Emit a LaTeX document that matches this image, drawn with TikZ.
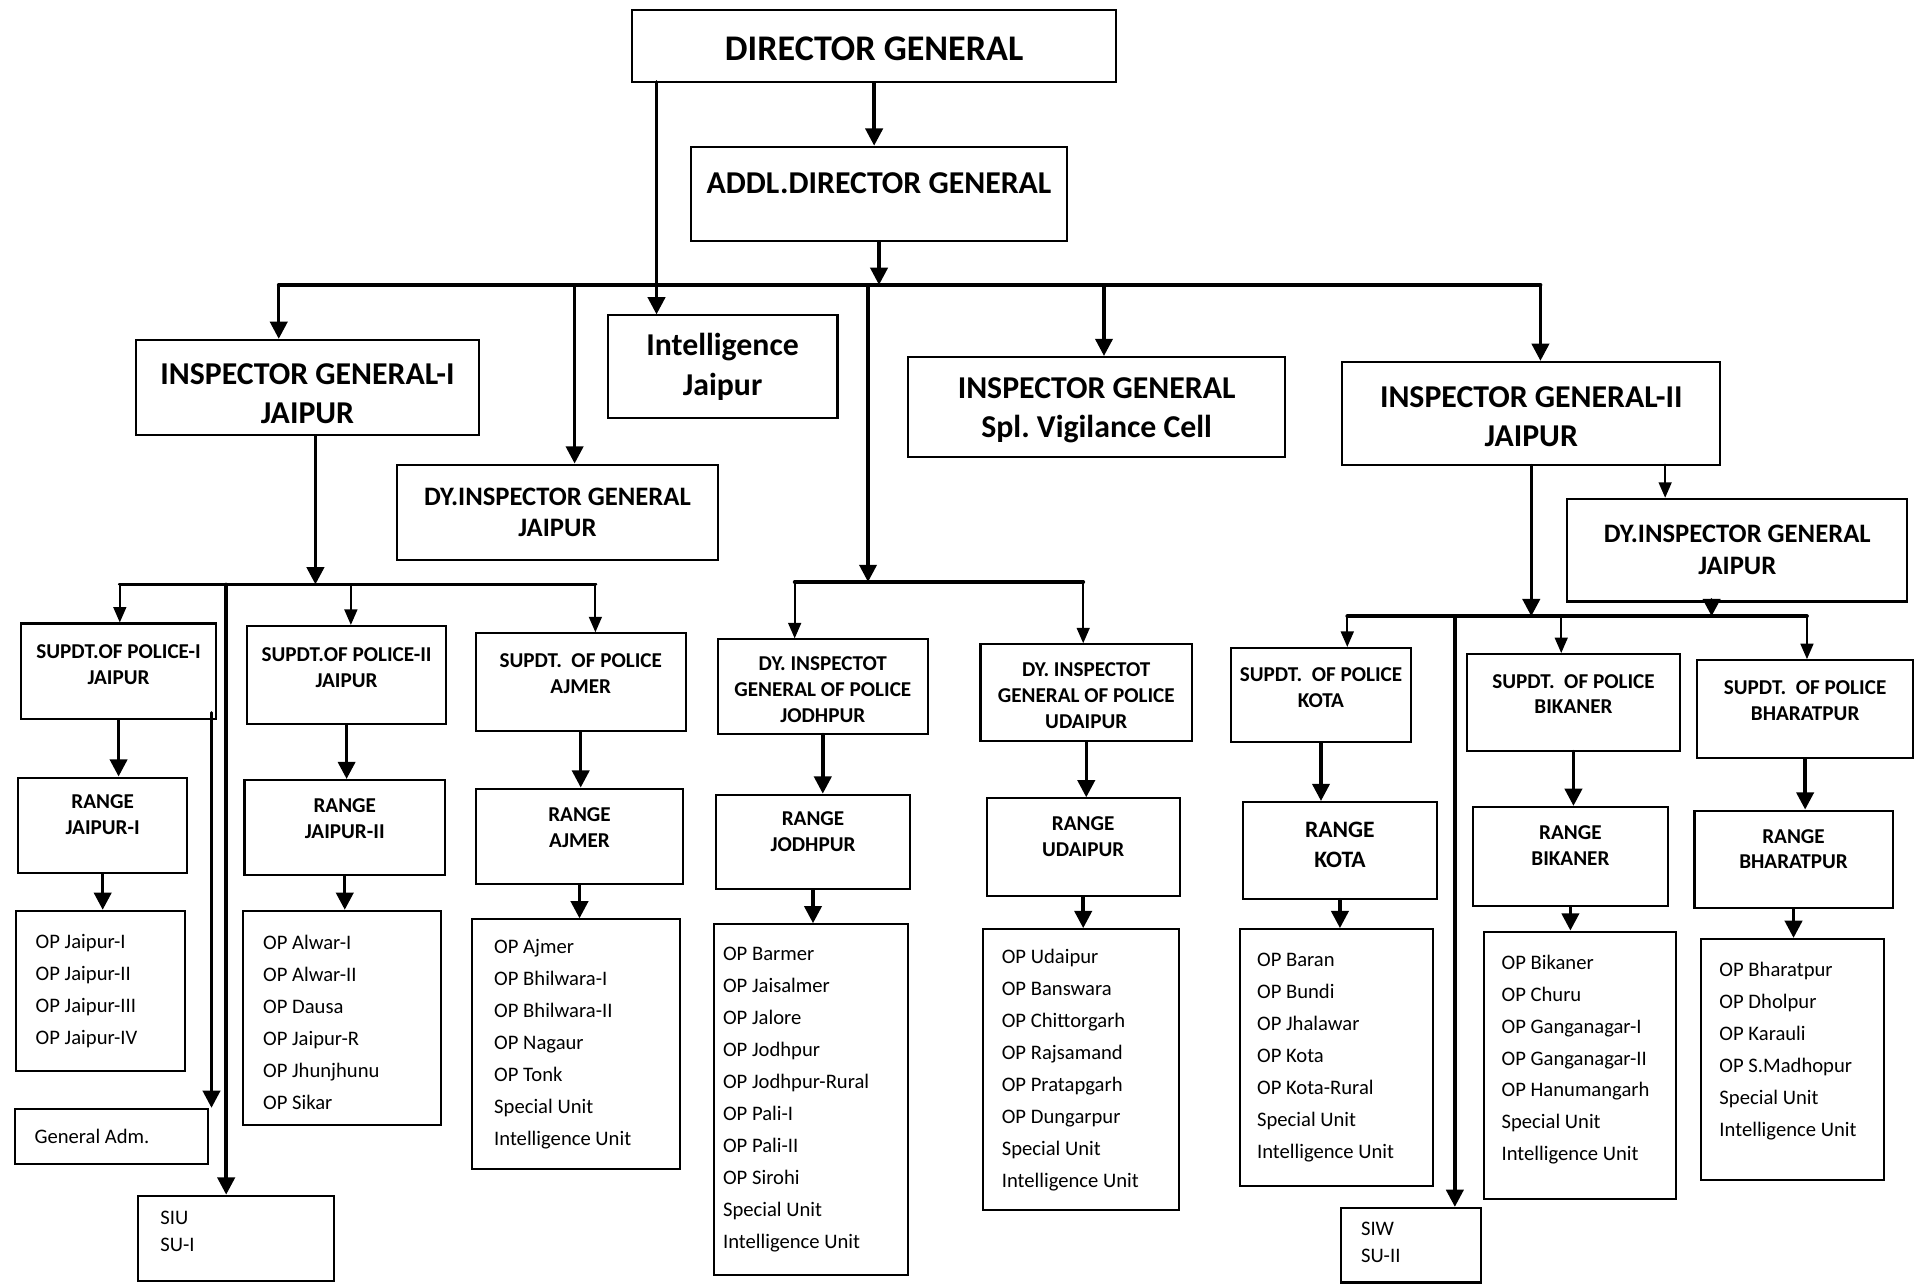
\documentclass[tikz,border=0pt]{standalone}
\usepackage{fontspec}
\setmainfont{Carlito}
\usetikzlibrary{arrows.meta, fit}

\tikzset{
  box/.style={draw, line width=1.2pt, inner sep=0pt},
  arr/.style={line width=2pt, -{Triangle[length=10pt,width=10pt]}},
  tarr/.style={line width=1.1pt, -{Triangle[length=9pt,width=7.5pt]}},
  bus/.style={line width=2.2pt},
  lvlone/.style={align=center, inner sep=0pt, font=\bfseries\fontsize{18.5}{22.8}\selectfont},
  lvltwo/.style={align=center, inner sep=0pt, font=\bfseries\fontsize{15.5}{18.5}\selectfont},
  lvlthree/.style={align=center, inner sep=0pt, font=\bfseries\fontsize{12.3}{15}\selectfont},
  oplist/.style={align=left, anchor=west, inner sep=0pt, font=\fontsize{12}{18.6}\selectfont},
}

\begin{document}
\begin{tikzpicture}[x=0.025cm, y=-0.025cm, line cap=round]
\useasboundingbox (0,0) rectangle (1568,1052);

% top of the chart
\node[box, fit={(517,8) (913,67)}] (dg) {};
\node[lvlone, font=\bfseries\fontsize{21}{25}\selectfont, yshift=-0.06cm] (dgt) at (dg) {DIRECTOR GENERAL};
\node[box, fit={(565,120) (873,197)}] (addl) {};
\node[lvlone, yshift=0.21cm] (addlt) at (addl) {ADDL.DIRECTOR GENERAL};
\node[box, fit={(497,258) (685,342)}] (intl) {};
\node[lvlone] (intlt) at (intl) {Intelligence\\Jaipur};
\node[box, fit={(111,278) (392,356)}] (ig1) {};
\node[lvlone, yshift=-0.12cm] (ig1t) at (ig1) {INSPECTOR GENERAL-I\\JAIPUR};
\node[box, fit={(325,380) (587,458)}] (dig1) {};
\node[lvltwo] (dig1t) at (dig1) {DY.INSPECTOR GENERAL\\JAIPUR};
\node[box, fit={(743,292) (1051,374)}] (igs) {};
\node[lvlone, yshift=-0.06cm] (igst) at (igs) {INSPECTOR GENERAL\\Spl.\ Vigilance Cell};
\node[box, fit={(1098,296) (1407,380)}] (ig2) {};
\node[lvlone, yshift=-0.07cm] (ig2t) at (ig2) {INSPECTOR GENERAL-II\\JAIPUR};
\node[box, fit={(1282,408) (1560,492)}] (dig2) {};
\node[lvltwo] (dig2t) at (dig2) {DY.INSPECTOR GENERAL\\JAIPUR};

% IG-I side
\node[box, fit={(17,510) (177,588)}] (sp1) {};
\node[lvlthree, yshift=0.14cm] (sp1t) at (sp1) {SUPDT.OF POLICE-I\\JAIPUR};
\node[box, fit={(15,636) (153,714)}] (rj1) {};
\node[lvlthree, yshift=0.22cm] (rj1t) at (rj1) {RANGE\\JAIPUR-I};
\node[box, fit={(13,745) (151,876)}] (op1) {};
\node[oplist] (op1t) at ([xshift=0.42cm]op1.west) {OP Jaipur-I\\OP Jaipur-II\\OP Jaipur-III\\OP Jaipur-IV};
\node[box, fit={(12,907) (170,952)}] (ga) {};
\node[oplist] (gat) at ([xshift=0.42cm]ga.west) {General Adm.};
\node[box, fit={(113,978) (273,1048)}] (siu) {};
\node[oplist, font=\fontsize{12}{15.6}\selectfont, yshift=0.15cm] (siut) at ([xshift=0.47cm]siu.west) {SIU\\SU-I};

\node[box, fit={(202,512) (365,592)}] (sp2) {};
\node[lvlthree, yshift=0.14cm] (sp2t) at (sp2) {SUPDT.OF POLICE-II\\JAIPUR};
\node[box, fit={(200,638) (364,716)}] (rj2) {};
\node[lvlthree, yshift=0.18cm] (rj2t) at (rj2) {RANGE\\JAIPUR-II};
\node[box, fit={(199,745) (361,920)}] (op2) {};
\node[oplist, yshift=-0.1cm] (op2t) at ([xshift=0.42cm]op2.west) {OP Alwar-I\\OP Alwar-II\\OP Dausa\\OP Jaipur-R\\OP Jhunjhunu\\OP Sikar};

\node[box, fit={(389,518) (561,598)}] (spa) {};
\node[lvlthree, yshift=0.18cm] (spat) at (spa) {SUPDT.\ \ OF POLICE\\AJMER};
\node[box, fit={(389,645) (559,723)}] (ra) {};
\node[lvlthree, yshift=0.18cm] (rat) at (ra) {RANGE\\AJMER};
\node[box, fit={(386,752) (556,956)}] (op3) {};
\node[oplist] (op3t) at ([xshift=0.47cm]op3.west) {OP Ajmer\\OP Bhilwara-I\\OP Bhilwara-II\\OP Nagaur\\OP Tonk\\Special Unit\\Intelligence Unit};

% Jodhpur and Udaipur
\node[box, fit={(587,523) (759,600)}] (dj) {};
\node[lvlthree, yshift=-0.06cm] (djt) at (dj) {DY. INSPECTOT\\GENERAL OF POLICE\\JODHPUR};
\node[box, fit={(586,650) (744,727)}] (rjo) {};
\node[lvlthree, yshift=0.21cm] (rjot) at (rjo) {RANGE\\JODHPUR};
\node[box, fit={(584,756) (743,1043)}] (op4) {};
\node[oplist] (op4t) at ([xshift=0.2cm]op4.west) {OP Barmer\\OP Jaisalmer\\OP Jalore\\OP Jodhpur\\OP Jodhpur-Rural\\OP Pali-I\\OP Pali-II\\OP Sirohi\\Special Unit\\Intelligence Unit};

\node[box, fit={(802,527) (975,606)}] (du) {};
\node[lvlthree, yshift=-0.06cm] (dut) at (du) {DY. INSPECTOT\\GENERAL OF POLICE\\UDAIPUR};
\node[box, fit={(807,653) (965,733)}] (ru) {};
\node[lvlthree, yshift=0.22cm] (rut) at (ru) {RANGE\\UDAIPUR};
\node[box, fit={(804,760) (964,990)}] (op5) {};
\node[oplist] (op5t) at ([xshift=0.4cm]op5.west) {OP Udaipur\\OP Banswara\\OP Chittorgarh\\OP Rajsamand\\OP Pratapgarh\\OP Dungarpur\\Special Unit\\Intelligence Unit};

% IG-II side
\node[box, fit={(1007,530) (1154,607)}] (spk) {};
\node[lvlthree, yshift=0.15cm] (spkt) at (spk) {SUPDT.\ \ OF POLICE\\KOTA};
\node[box, fit={(1017,656) (1175,735)}] (rk) {};
\node[lvlthree, font=\bfseries\fontsize{13.7}{17}\selectfont, yshift=0.11cm] (rkt) at (rk) {RANGE\\KOTA};
\node[box, fit={(1014,760) (1172,970)}] (op6) {};
\node[oplist] (op6t) at ([xshift=0.37cm]op6.west) {OP Baran\\OP Bundi\\OP Jhalawar\\OP Kota\\OP Kota-Rural\\Special Unit\\Intelligence Unit};
\node[box, fit={(1097,988) (1211,1049)}] (siw) {};
\node[oplist, font=\fontsize{12}{15.6}\selectfont, yshift=0.05cm] (siwt) at ([xshift=0.42cm]siw.west) {SIW\\SU-II};

\node[box, fit={(1200,535) (1374,614)}] (spb) {};
\node[lvlthree, yshift=0.17cm] (spbt) at (spb) {SUPDT.\ \ OF POLICE\\BIKANER};
\node[box, fit={(1205,660) (1364,741)}] (rb) {};
\node[lvlthree, yshift=0.22cm] (rbt) at (rb) {RANGE\\BIKANER};
\node[box, fit={(1214,762) (1371,981)}] (op7) {};
\node[oplist, yshift=0.12cm] (op7t) at ([xshift=0.37cm]op7.west) {OP Bikaner\\OP Churu\\OP Ganganagar-I\\OP Ganganagar-II\\OP Hanumangarh\\Special Unit\\Intelligence Unit};

\node[box, fit={(1388,540) (1565,620)}] (sph) {};
\node[lvlthree, yshift=0.18cm] (spht) at (sph) {SUPDT.\ \ OF POLICE\\BHARATPUR};
\node[box, fit={(1386,663) (1548,743)}] (rh) {};
\node[lvlthree, yshift=0.21cm] (rht) at (rh) {RANGE\\BHARATPUR};
\node[box, fit={(1391,768) (1541,965)}] (op8) {};
\node[oplist, yshift=0.17cm] (op8t) at ([xshift=0.4cm]op8.west) {OP Bharatpur\\OP Dholpur\\OP Karauli\\OP S.Madhopur\\Special Unit\\Intelligence Unit};

% bus points
\coordinate (dgi) at (537,67);
\coordinate (tb1) at (228,233);
\coordinate (tb2) at (470,233);
\coordinate (tb3) at (710,233);
\coordinate (tb4) at (903,233);
\coordinate (tb5) at (1260,233);
\coordinate (lb0) at (258,478);
\coordinate (lb1) at (98,478);
\coordinate (lb2) at (185,478);
\coordinate (lb3) at (287,478);
\coordinate (lb4) at (487,478);
\coordinate (ga0) at (173,583);
\coordinate (jb1) at (650,476);
\coordinate (jb2) at (886,476);
\coordinate (d2) at (1362,380);
\coordinate (rb0) at (1252,504);
\coordinate (rb1) at (1102,504);
\coordinate (rb2) at (1190,504);
\coordinate (rb3) at (1277,504);
\coordinate (rb4) at (1478,504);
\coordinate (rb5) at (1400,504);

% top connectors
\draw[arr] (dg.south) -- (dg.south |- addl.north);
\draw[arr] (dgi) -- (dgi |- intl.north);
\draw[arr] (addl.south) -- (addl.south |- tb1);
\draw[bus] (tb1) -- (tb5);
\draw[arr] (tb1) -- (tb1 |- ig1.north);
\draw[arr] (tb2) -- (tb2 |- dig1.north);
\draw[arr] (tb3) -- (tb3 |- jb1);
\draw[arr] (tb4) -- (tb4 |- igs.north);
\draw[arr] (tb5) -- (tb5 |- ig2.north);

% IG-I connectors
\draw[arr] (lb0 |- ig1.south) -- (lb0);
\draw[bus] (lb1) -- (lb4);
\draw[tarr] (lb1) -- (lb1 |- sp1.north);
\draw[arr] (lb2) -- (lb2 |- siu.north);
\draw[tarr] (lb3) -- (lb3 |- sp2.north);
\draw[tarr] (lb4) -- (lb4 |- spa.north);
\draw[arr] (ga0) -- (ga0 |- ga.north);

% Jodhpur / Udaipur connectors
\draw[bus] (jb1) -- (jb2);
\draw[tarr] (jb1) -- (jb1 |- dj.north);
\draw[tarr] (jb2) -- (jb2 |- du.north);

% IG-II connectors
\draw[tarr] (d2) -- (d2 |- dig2.north);
\draw[arr] (ig2.south) -- (ig2.south |- rb0);
\draw[arr] (rb5 |- dig2.south) -- (rb5);
\draw[bus] (rb1) -- (rb4);
\draw[tarr] (rb1) -- (rb1 |- spk.north);
\draw[arr] (rb2) -- (rb2 |- siw.north);
\draw[tarr] (rb3) -- (rb3 |- spb.north);
\draw[tarr] (rb4) -- (rb4 |- sph.north);

% superintendent -> range -> posts
\draw[arr] (sp1.south) -- (sp1.south |- rj1.north);
\draw[arr] (rj1.south) -- (rj1.south |- op1.north);
\draw[arr] (sp2.south) -- (sp2.south |- rj2.north);
\draw[arr] (rj2.south) -- (rj2.south |- op2.north);
\draw[arr] (spa.south) -- (spa.south |- ra.north);
\draw[arr] (ra.south) -- (ra.south |- op3.north);
\draw[arr] (dj.south) -- (dj.south |- rjo.north);
\draw[arr] (rjo.south) -- (rjo.south |- op4.north);
\draw[arr] (du.south) -- (du.south |- ru.north);
\draw[arr] (ru.south) -- (ru.south |- op5.north);
\draw[arr] (spk.south) -- (spk.south |- rk.north);
\draw[arr] (rk.south) -- (rk.south |- op6.north);
\draw[arr] (spb.south) -- (spb.south |- rb.north);
\draw[arr] (rb.south) -- (rb.south |- op7.north);
\draw[arr] (sph.south) -- (sph.south |- rh.north);
\draw[arr] (rh.south) -- (rh.south |- op8.north);
\end{tikzpicture}
\end{document}
